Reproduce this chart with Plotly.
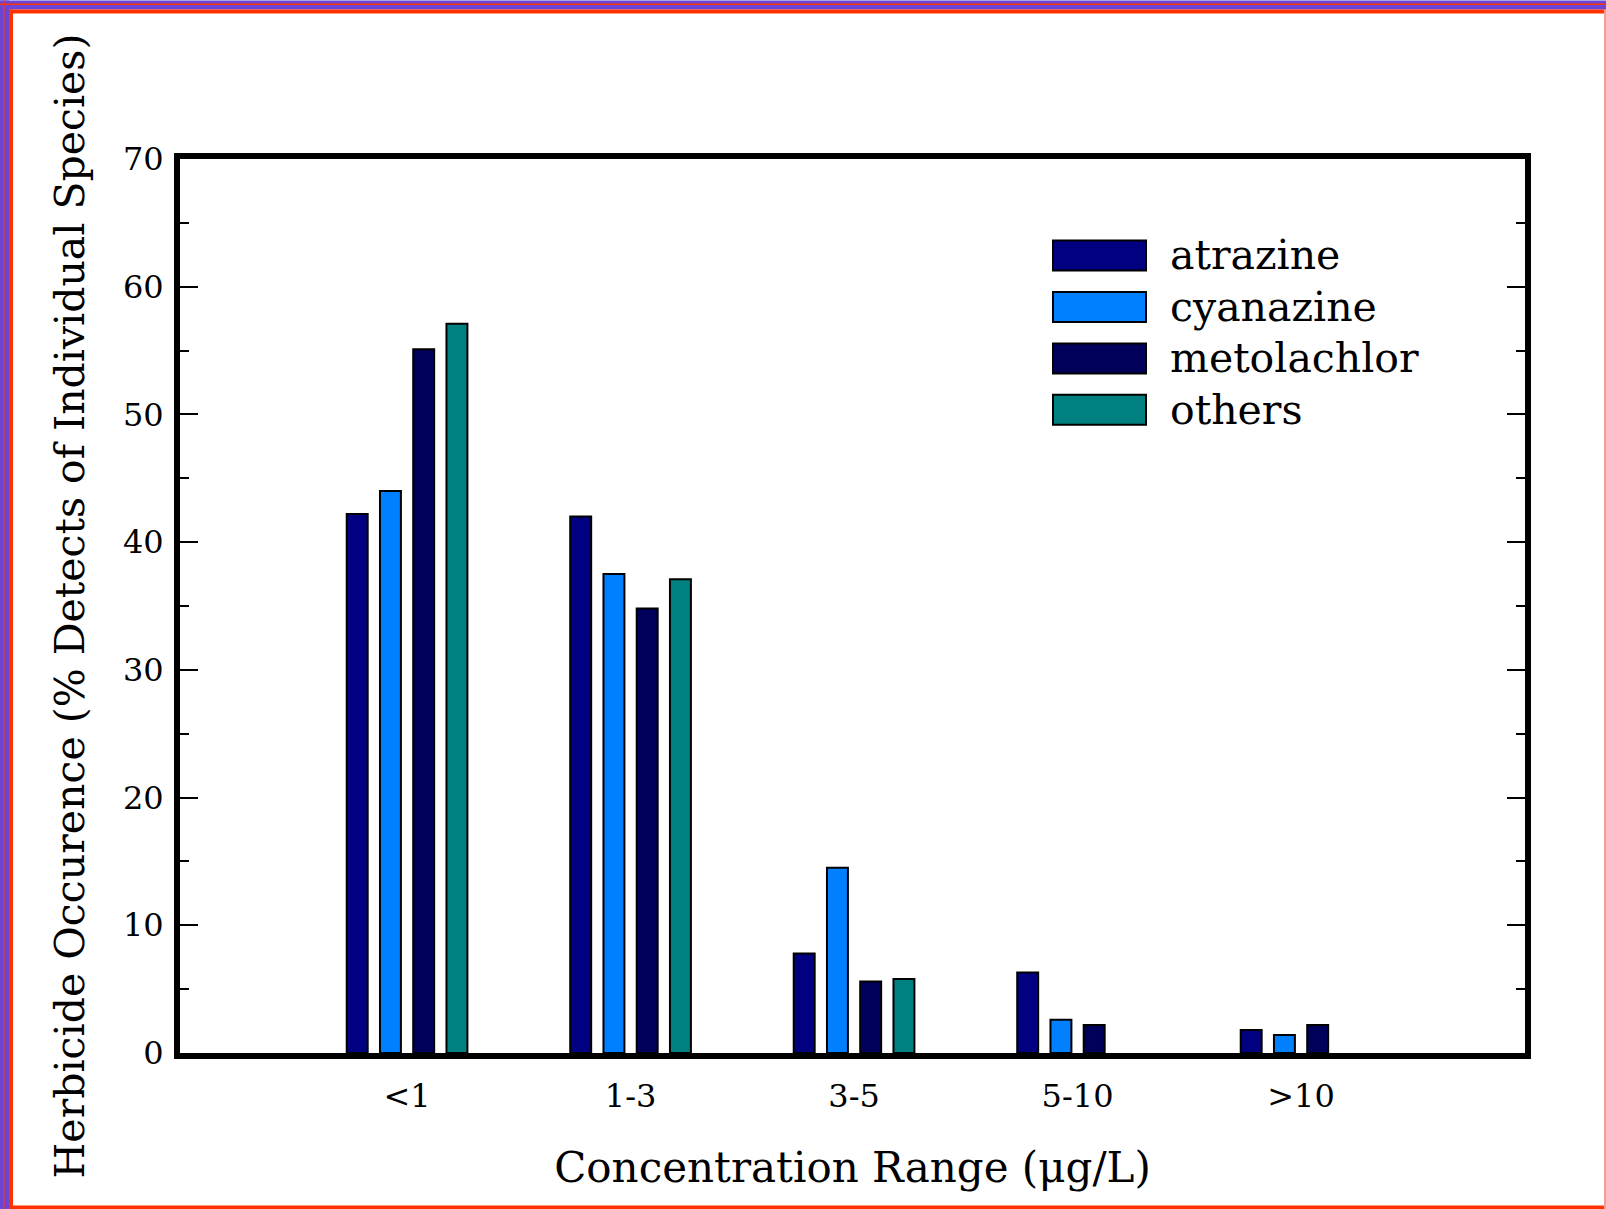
import plotly.graph_objects as go

categories = ["<1", "1-3", "3-5", "5-10", ">10"]
series_names = ["atrazine", "cyanazine", "metolachlor", "others"]
atrazine = [42.2, 42.0, 7.8, 6.3, 1.8]
cyanazine = [44.0, 37.5, 14.5, 2.6, 1.4]
metolachlor = [55.1, 34.8, 5.6, 2.2, 2.2]
others = [57.1, 37.1, 5.8, None, None]
colors = ["#000080", "#0080ff", "#00005a", "#008080"]
y_ticks = [0, 10, 20, 30, 40, 50, 60, 70]

W, H = 1606, 1209
L, R, T, B = 180, 1525, 158.5, 1053
FONT = "DejaVu Serif"


def px(x):
    return (x - L) / (R - L)


def py(y):
    return 1 - (y - T) / (B - T)


fig = go.Figure()
for name, vals, col in zip(series_names, [atrazine, cyanazine, metolachlor, others], colors):
    fig.add_trace(go.Bar(
        x=list(range(len(categories))), y=vals, name=name,
        marker=dict(color=col, line=dict(color="black", width=2)),
        showlegend=False,
    ))

shapes = []
annotations = []
# manual legend with large swatches
for i, (name, col) in enumerate(zip(series_names, colors)):
    y0 = 240 + i * 51.5
    shapes.append(dict(type="rect", xref="paper", yref="paper",
                       x0=px(1053), x1=px(1146), y0=py(y0), y1=py(y0 + 30),
                       fillcolor=col, line=dict(color="black", width=2)))
    annotations.append(dict(xref="paper", yref="paper", x=px(1168), y=py(y0 + 15),
                            text=name, showarrow=False, xanchor="left", yanchor="middle",
                            font=dict(family=FONT, size=41, color="black")))

# decorative page border
def rect(x0, y0, x1, y1, col):
    shapes.append(dict(type="rect", xref="paper", yref="paper", layer="above",
                       x0=px(x0), x1=px(x1), y0=py(y0), y1=py(y1),
                       fillcolor=col, line=dict(width=0)))

blue = "#6a45d6"
red = "#ff3300"
rect(0, 0, W, 9, blue)
rect(0, 0, 9, H, blue)
rect(0, 3, W, 4.5, red)
rect(3, 0, 4.5, H, red)
rect(9, 9, W, 13, red)
rect(9, 9, 13, H, red)
rect(9, 1205.5, W, H, red)
rect(1604, 9, W, H, "#f4a090")

fig.update_layout(
    width=W, height=H,
    margin=dict(l=L, r=W - R, t=T, b=H - B, pad=0),
    paper_bgcolor="white", plot_bgcolor="white",
    barmode="group", bargap=0.405, bargroupgap=0.37,
    font=dict(family=FONT, color="black"),
    shapes=shapes, annotations=annotations,
    showlegend=False,
)
fig.update_xaxes(
    range=[-1.016, 5.002], tickmode="array",
    tickvals=list(range(len(categories))), ticktext=categories,
    ticks="", showline=True, linewidth=6, linecolor="black", mirror=True,
    showgrid=False, zeroline=False, ticklabelstandoff=10,
    tickfont=dict(family=FONT, size=32),
    title=dict(text="Concentration Range (μg/L)", font=dict(family=FONT, size=42), standoff=40),
)
fig.update_yaxes(
    range=[0, 70], tickmode="array", tickvals=y_ticks,
    ticks="inside", ticklen=18, tickwidth=2, tickcolor="black",
    minor=dict(dtick=5, ticks="inside", ticklen=9, tickwidth=1.5, tickcolor="black", showgrid=False),
    showline=True, linewidth=6, linecolor="black", mirror="ticks",
    showgrid=False, zeroline=False, ticklabelstandoff=4,
    tickfont=dict(family=FONT, size=32),
    title=dict(text="Herbicide Occurence (% Detects of Individual Species)",
               font=dict(family=FONT, size=41), standoff=28),
)

fig.write_html("out.html", config={"displayModeBar": False},
               post_script="document.body.style.margin='0';document.body.style.overflow='hidden';")
